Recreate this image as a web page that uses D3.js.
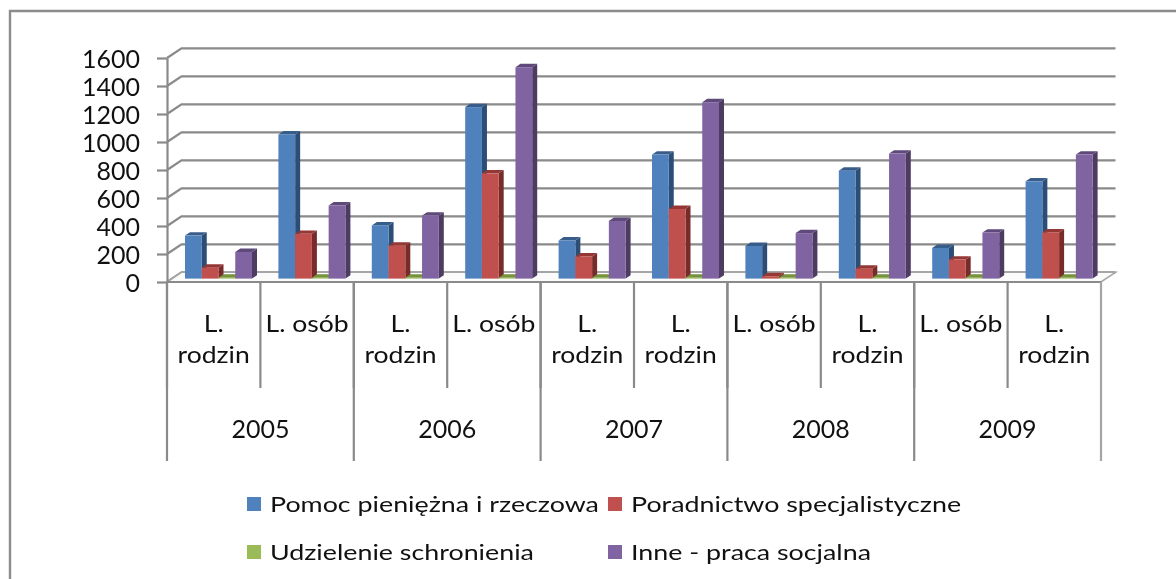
<!DOCTYPE html>
<html>

<head>
	<meta charset="utf-8">
	<script src="https://d3js.org/d3.v7.min.js"></script>
	<title>Pomoc - liczba rodzin i osób</title>
	<style>
		html, body {
			margin: 0;
			padding: 0;
			background: #fff;
			overflow: hidden;
		}

		svg {
			display: block;
			filter: blur(0.6px);
		}

		text {
			font-family: Lato, sans-serif;
			fill: #111;
		}
	</style>
</head>

<body>
	<div id="chart"></div>

	<script>
		// data
		const years = ["2005", "2006", "2007", "2008", "2009"];
		const categories = [
			"L. rodzin", "L. osób",
			"L. rodzin", "L. osób",
			"L. rodzin", "L. rodzin",
			"L. osób", "L. rodzin",
			"L. osób", "L. rodzin"
		];
		const seriesNames = ["Pomoc pieniężna i rzeczowa", "Poradnictwo specjalistyczne", "Udzielenie schronienia", "Inne - praca socjalna"];
		const pomoc = [307, 1030, 380, 1225, 272, 886, 233, 771, 219, 695];
		const poradnictwo = [78, 320, 235, 752, 158, 497, 17, 71, 136, 330];
		const schronienie = [6, 6, 6, 6, 6, 6, 6, 6, 6, 6];
		const inne = [190, 522, 450, 1510, 412, 1260, 325, 893, 329, 886];
		const yTicks = [0, 200, 400, 600, 800, 1000, 1200, 1400, 1600];

		const seriesValues = [pomoc, poradnictwo, schronienie, inne];
		const front = ["#4f81bd", "#c0504d", "#9bbb59", "#8064a2"];
		const side = ["#2c4d76", "#772c2a", "#5f7530", "#4d3b62"];
		const top3d = ["#385d8a", "#953735", "#76923c", "#5f497a"];

		const W = 1176, H = 579;
		const left = 167, right = 1101, y0 = 282, y1 = 58;
		const wallDx = 14.5, wallDy = -9.7; // floor depth
		const barDx = 5, barDy = -3.4, barLift = 3.4;
		const gridColor = "#8a8a8a";

		const svg = d3.select("#chart")
			.append("svg")
			.attr("width", W)
			.attr("height", H);

		// frame, only top and left are inside the crop
		svg.append("path")
			.attr("d", d3.line()([[10, H], [10, 11], [W, 11]]))
			.attr("fill", "none")
			.attr("stroke", "#8c8c8c")
			.attr("stroke-width", 2.4);

		const y = d3.scaleLinear().domain([0, 1600]).range([y0, y1]);
		const x = d3.scaleBand().domain(d3.range(categories.length)).range([left, right]);
		const xYear = d3.scaleBand().domain(years).range([left, right]);
		const xSeries = d3.scaleBand().domain(d3.range(seriesNames.length)).range([18, 85]);

		// gridlines on the back wall, with the short diagonal back from the axis
		svg.append("g").selectAll("path")
			.data(yTicks)
			.enter()
			.append("path")
			.attr("d", d => d3.line()([[left, y(d)], [left + wallDx, y(d) + wallDy], [right + wallDx, y(d) + wallDy]]))
			.attr("fill", "none")
			.attr("stroke", gridColor)
			.attr("stroke-width", 2.2);

		// floor
		svg.append("path")
			.attr("d", d3.line()([[left, y0], [left + wallDx, y0 + wallDy], [right + wallDx, y0 + wallDy], [right, y0]]) + "Z")
			.attr("fill", "#fbfbfb")
			.attr("stroke", "#a5a5a5")
			.attr("stroke-width", 1.6);

		// 3d bars
		const barW = xSeries.bandwidth();
		const baseY = y0 - barLift;

		categories.forEach((c, i) => {
			seriesValues.forEach((vals, s) => {
				const g = svg.append("g");
				const xl = x(i) + xSeries(s);
				const xr = xl + barW;
				const yt = y(vals[i]) - barLift;

				g.append("path")
					.attr("d", d3.line()([[xr, baseY], [xr + barDx, baseY + barDy], [xr + barDx, yt + barDy], [xr, yt]]) + "Z")
					.attr("fill", side[s]);
				g.append("path")
					.attr("d", d3.line()([[xl, yt], [xl + barDx, yt + barDy], [xr + barDx, yt + barDy], [xr, yt]]) + "Z")
					.attr("fill", top3d[s]);
				g.append("rect")
					.attr("x", xl)
					.attr("y", yt)
					.attr("width", barW)
					.attr("height", baseY - yt)
					.attr("fill", front[s]);
			});
		});

		// y axis
		const axis = svg.append("g")
			.attr("transform", `translate(${left},0)`)
			.call(d3.axisLeft(y).tickValues(yTicks).tickFormat(d3.format("d")).tickSize(10).tickSizeOuter(0).tickPadding(17));
		axis.selectAll("path, line")
			.attr("stroke", gridColor)
			.attr("stroke-width", 2.2);
		axis.selectAll("text")
			.attr("font-size", 25)
			.attr("dy", "0.39em")
			.style("font-family", "Lato, sans-serif")
			.style("fill", "#111");

		// category axis: front line and the two levels of separators
		const labels = svg.append("g");
		labels.append("line")
			.attr("x1", left).attr("x2", right)
			.attr("y1", y0).attr("y2", y0)
			.attr("stroke", gridColor)
			.attr("stroke-width", 2.2);

		labels.selectAll(".sep")
			.data(d3.range(categories.length))
			.enter()
			.append("line")
			.attr("x1", i => x(i))
			.attr("x2", i => x(i))
			.attr("y1", y0)
			.attr("y2", 388)
			.attr("stroke", gridColor)
			.attr("stroke-width", 2.2);

		labels.selectAll(".yearsep")
			.data(years)
			.enter()
			.append("line")
			.attr("x1", d => xYear(d))
			.attr("x2", d => xYear(d))
			.attr("y1", y0)
			.attr("y2", 461)
			.attr("stroke", gridColor)
			.attr("stroke-width", 2.2);

		labels.append("line")
			.attr("x1", right).attr("x2", right)
			.attr("y1", y0).attr("y2", 461)
			.attr("stroke", "#a5a5a5")
			.attr("stroke-width", 2.2);

		// the reference was stretched sideways, so the labels are too
		categories.forEach((c, i) => {
			const cx = x(i) + x.bandwidth() / 2;
			// "L. rodzin" does not fit in the band, so it wraps
			const lines = c === "L. rodzin" ? ["L.", "rodzin"] : [c];
			lines.forEach((t, k) => {
				labels.append("text")
					.attr("transform", `translate(${cx},${332 + k * 31}) scale(1.13,1)`)
					.attr("text-anchor", "middle")
					.attr("font-size", 23.5)
					.text(t);
			});
		});

		labels.selectAll(".year")
			.data(years)
			.enter()
			.append("text")
			.attr("x", d => xYear(d) + xYear.bandwidth() / 2)
			.attr("y", 438)
			.attr("text-anchor", "middle")
			.attr("font-size", 25)
			.text(d => d);

		// legend, two rows of two
		const legendX = [247, 608];
		const legendY = [512, 560];
		const legend = svg.append("g");
		seriesNames.forEach((name, i) => {
			const col = i % 2, row = Math.floor(i / 2);
			legend.append("rect")
				.attr("x", legendX[col])
				.attr("y", legendY[row] - 15)
				.attr("width", 14)
				.attr("height", 14)
				.attr("fill", front[i]);
			legend.append("text")
				.attr("transform", `translate(${legendX[col] + 23},${legendY[row]}) scale(1.22,1)`)
				.attr("font-size", 22)
				.text(name);
		});
	</script>
</body>

</html>
